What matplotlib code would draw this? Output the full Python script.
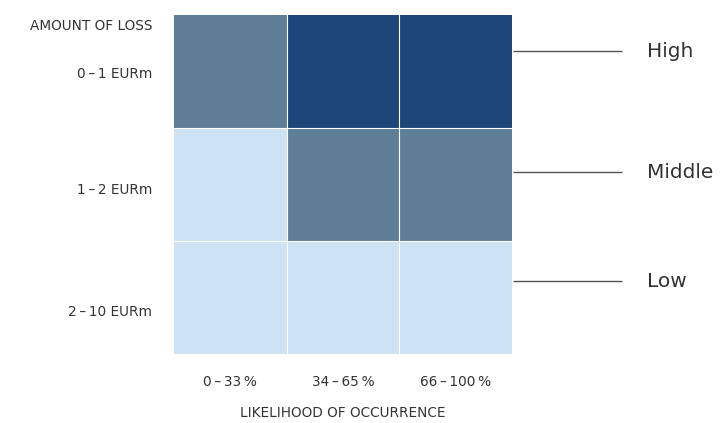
import matplotlib
matplotlib.use("Agg")
import matplotlib.pyplot as plt
from matplotlib.colors import ListedColormap
import numpy as np

plt.rcParams['font.family'] = ['DejaVu Sans']

likelihood = ["0\u2009–\u200933\u2009%", "34\u2009–\u200965\u2009%", "66\u2009–\u2009100\u2009%"]
loss = ["0\u2009–\u20091 EURm", "1\u2009–\u20092 EURm", "2\u2009–\u200910 EURm"]
levels = ["Low", "Middle", "High"]
# risk level per cell (0=Low, 1=Middle, 2=High); rows = loss (top to bottom), cols = likelihood
risk = [[1, 2, 2],
        [0, 1, 1],
        [0, 0, 0]]

colors = ["#cde3f3", "#5e7e95", "#1f4678"]
cmap = ListedColormap(colors)
text_col = "#333333"

fig = plt.figure(figsize=(7.2, 4.23), dpi=100)
ax = fig.add_axes([0.2417, 0.1631, 0.4694, 0.8014])
ax.pcolormesh(np.arange(4), np.arange(4), np.array(risk), cmap=cmap, vmin=-0.5, vmax=2.5)
for k in [1, 2]:
    ax.axvline(k, color="white", lw=0.8)
    ax.axhline(k, color="white", lw=0.8)
ax.set_xlim(0, 3)
ax.set_ylim(3, 0)
ax.set_xticks([])
ax.set_yticks([])
for s in ax.spines.values():
    s.set_visible(False)

fs = 9.8
# y labels
ylab_pos = [0.52, 1.55, 2.63]
for lab, y in zip(loss, ylab_pos):
    ax.text(-0.195, y, lab, ha="right", va="center", fontsize=fs, color=text_col, clip_on=False)
ax.text(-0.195, 0.1, "AMOUNT OF LOSS", ha="right", va="center", fontsize=fs, color=text_col, clip_on=False)

# x labels
for i, lab in enumerate(likelihood):
    ax.text(i + 0.5, 3.25, lab, ha="center", va="center", fontsize=fs, color=text_col, clip_on=False)
ax.text(1.5, 3.52, "LIKELIHOOD OF OCCURRENCE", ha="center", va="center", fontsize=fs,
        color=text_col, clip_on=False)

# legend lines
level_pos = {"High": 0.32, "Middle": 1.39, "Low": 2.355}
for lab in ["High", "Middle", "Low"]:
    y = level_pos[lab]
    ax.plot([3.01, 3.976], [y, y], color="#555555", lw=1, clip_on=False, solid_capstyle="butt")
    ax.text(4.2, y, lab, ha="left", va="center", fontsize=14.5, color=text_col, clip_on=False)

fig.savefig("out.png", dpi=100)
